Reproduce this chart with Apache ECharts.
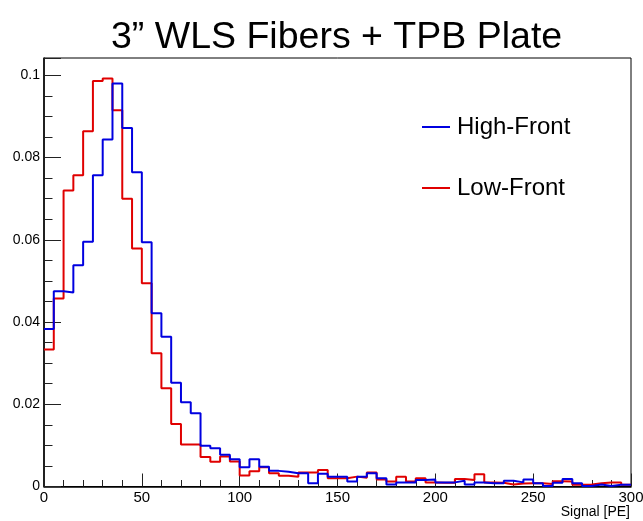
<!DOCTYPE html>
<html>
<head>
<meta charset="utf-8">
<script src="https://cdn.jsdelivr.net/npm/echarts@6/dist/echarts.min.js"></script>
<style>
  html, body { margin: 0; padding: 0; background: #ffffff; }
  #chart { width: 643px; height: 521px; }
</style>
</head>
<body>
<div id="chart"></div>
<script>
// Bin lower edges (bin width 5 PE)
const binEdges = [0,5,10,15,20,25,30,35,40,45,50,55,60,65,70,75,80,85,90,95,
  100,105,110,115,120,125,130,135,140,145,150,155,160,165,170,175,180,185,190,195,
  200,205,210,215,220,225,230,235,240,245,250,255,260,265,270,275,280,285,290,295];
const xUpper = 300;

const seriesNames = ['High-Front', 'Low-Front'];

const highFront = [0.0383,0.0475,0.0472,0.0538,0.0595,0.0757,0.0844,0.0980,0.0872,0.0764,
  0.0594,0.0421,0.0364,0.0252,0.0205,0.0178,0.0099,0.0093,0.0077,0.0066,
  0.0047,0.0066,0.0048,0.0038,0.0036,0.0032,0.0032,0.0008,0.0031,0.0024,
  0.0024,0.0012,0.0024,0.0032,0.0020,0.0005,0.0010,0.0010,0.0016,0.0017,
  0.0010,0.0010,0.0014,0.0005,0.0010,0.0008,0.0008,0.0014,0.0010,0.0017,
  0.0008,0.0001,0.0009,0.0018,0.0008,0.0001,0.0005,0.0001,0.0004,0.0004];

const lowFront = [0.0333,0.0457,0.0720,0.0757,0.0864,0.0986,0.0992,0.0915,0.0700,0.0579,
  0.0494,0.0324,0.0239,0.0152,0.0102,0.0102,0.0072,0.0060,0.0073,0.0061,
  0.0027,0.0037,0.0047,0.0032,0.0026,0.0024,0.0034,0.0034,0.0040,0.0020,
  0.0020,0.0024,0.0021,0.0034,0.0017,0.0012,0.0024,0.0012,0.0020,0.0010,
  0.0009,0.0009,0.0018,0.0016,0.0030,0.0010,0.0009,0.0005,0.0007,0.0008,
  0.0008,0.0006,0.0013,0.0012,0.0004,0.0005,0.0008,0.0010,0.0010,0.0004];

const yTickLabels = ['0', '0.02', '0.04', '0.06', '0.08', '0.1'];
const xTickLabels = ['0', '50', '100', '150', '200', '250', '300'];
const xAxisTitle = 'Signal [PE]';

function toSteps(vals) {
  const pts = binEdges.map((x, i) => [x, vals[i]]);
  pts.push([xUpper, vals[vals.length - 1]]);
  return pts;
}

const FONT = 'Liberation Sans, Arial, Helvetica, sans-serif';
const chart = echarts.init(document.getElementById('chart'), null, { renderer: 'canvas' });

chart.setOption({
  animation: false,
  backgroundColor: '#ffffff',
  textStyle: { fontFamily: FONT },
  title: {
    text: '3\u201D WLS Fibers + TPB Plate',
    left: 106, top: 14,
    textStyle: { fontFamily: FONT, fontSize: 37.5, fontWeight: 'normal', color: '#000' }
  },
  legend: {
    data: seriesNames,
    orient: 'vertical',
    left: 422, top: 115,
    padding: 0,
    icon: 'rect',
    itemWidth: 28, itemHeight: 2, itemGap: 37,
    textStyle: { fontFamily: FONT, fontSize: 24, lineHeight: 24, color: '#000', padding: [0, 0, 0, 2] }
  },
  graphic: [
    {
      type: 'text', right: 13, top: 505,
      style: { text: xAxisTitle, font: '14px ' + FONT, fill: '#000' }
    }
  ],
  grid: {
    left: 44, right: 12, top: 58, bottom: 34.5,
    show: true, borderColor: '#000', borderWidth: 1, backgroundColor: 'transparent',
    containLabel: false,
    outerBoundsMode: 'none'
  },
  xAxis: {
    type: 'value', min: 0, max: 300, interval: 50,
    axisLine: { show: true, onZero: false, lineStyle: { color: '#000', width: 1.5 } },
    axisTick: { show: true, inside: true, length: 13, lineStyle: { color: '#222', width: 1 } },
    minorTick: { show: true, splitNumber: 5, length: 6.5, lineStyle: { color: '#222', width: 1 } },
    splitLine: { show: false },
    axisLabel: {
      margin: 4, fontFamily: FONT, fontSize: 15, color: '#000',
      formatter: v => { const i = Math.round(v / 50); return Math.abs(v - i * 50) < 1e-9 ? xTickLabels[i] : ''; }
    }
  },
  yAxis: {
    type: 'value', min: 0, max: 0.1042, interval: 0.02,
    axisLine: { show: true, onZero: false, lineStyle: { color: '#000', width: 1.5 } },
    axisTick: { show: true, inside: true, length: 17, lineStyle: { color: '#222', width: 1 } },
    minorTick: { show: true, splitNumber: 4, length: 8.5, lineStyle: { color: '#222', width: 1 } },
    splitLine: { show: false },
    axisLabel: {
      margin: 4, fontFamily: FONT, fontSize: 14, color: '#000',
      formatter: v => { const i = Math.round(v / 0.02); return Math.abs(v - i * 0.02) < 1e-9 && i < yTickLabels.length ? yTickLabels[i] : ''; }
    }
  },
  series: [
    {
      name: 'Low-Front', type: 'line', step: 'end', symbol: 'none', z: 2,
      data: toSteps(lowFront),
      lineStyle: { color: '#e00000', width: 2 }, itemStyle: { color: '#e00000' }
    },
    {
      name: 'High-Front', type: 'line', step: 'end', symbol: 'none', z: 3,
      data: toSteps(highFront),
      lineStyle: { color: '#0000e0', width: 2 }, itemStyle: { color: '#0000e0' }
    }
  ]
});
</script>
</body>
</html>
